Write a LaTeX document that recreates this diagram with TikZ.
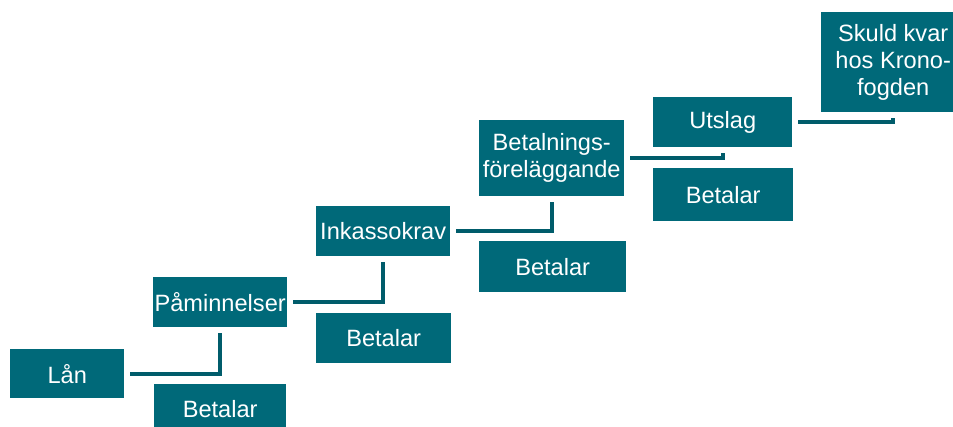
\documentclass[tikz,border=0pt]{standalone}
\usepackage{fontspec}
\setmainfont{Liberation Sans}
\definecolor{boxc}{RGB}{0,105,121}
\definecolor{linec}{RGB}{0,92,107}
\begin{document}
\begin{tikzpicture}[x=1pt,y=-1pt,
  box/.style={fill=boxc, text=white, inner sep=0pt, anchor=north west,
    font=\fontsize{23.6}{27}\selectfont, align=center},
  conn/.style={draw=linec, line width=4pt}]
\useasboundingbox (0,0) rectangle (953,426);
\clip (0,0) rectangle (953,426);
\node[box, minimum width=114pt, minimum height=49pt] (lan) at (10,349) {Lån};
\node[box, minimum width=132pt, minimum height=50pt] (b1) at (154,384) {Betalar};
\node[box, minimum width=134pt, minimum height=50pt] (pam) at (153,277) {Påminnelser};
\node[box, minimum width=135pt, minimum height=50pt] (b2) at (316,313) {Betalar};
\node[box, minimum width=134pt, minimum height=50pt] (ink) at (316,206) {Inkassokrav};
\node[box, minimum width=147pt, minimum height=51pt] (b3) at (479,241) {Betalar};
\node[box, minimum width=145pt, minimum height=76pt] (bet) at (479,120) {Betalnings-\\föreläggande};
\node[box, minimum width=140pt, minimum height=53pt] (b4) at (653,168) {Betalar};
\node[box, minimum width=139pt, minimum height=50pt] (uts) at (653,97) {Utslag};
\node[box, minimum width=144pt, minimum height=100pt] (sk) at (821,12) {Skuld kvar\\hos Krono-\\fogden};
\draw[conn] ([xshift=6pt]lan.east) -| ([yshift=-6pt]pam.south);
\draw[conn] ([xshift=6pt]pam.east) -| ([yshift=-6pt]ink.south);
\draw[conn] ([xshift=6pt]ink.east) -| ([yshift=-6pt]bet.south);
\draw[conn] ([xshift=6pt]bet.east) -| ([yshift=-6pt]uts.south);
\draw[conn] ([xshift=6pt]uts.east) -| ([yshift=-6pt]sk.south);
\end{tikzpicture}
\end{document}
